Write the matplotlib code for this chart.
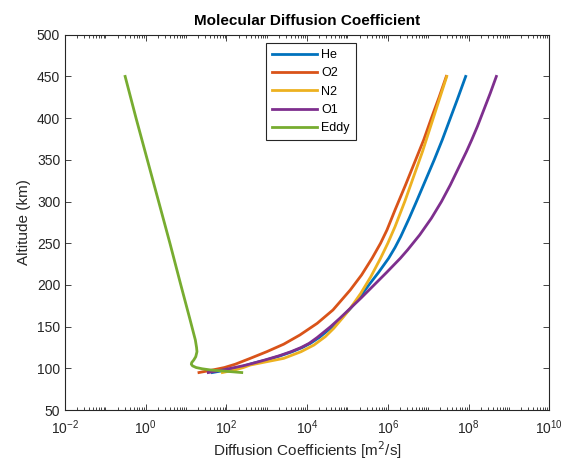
import numpy as np
import matplotlib
matplotlib.use("Agg")
import matplotlib.pyplot as plt
from matplotlib.ticker import LogLocator, NullFormatter, FixedLocator

plt.rcParams['font.family'] = ['Liberation Sans', 'DejaVu Sans']

# altitude (km) and log10 of the diffusion coefficient (m^2/s)
alt_he = [95, 98, 100, 103, 106, 110, 115, 120, 125, 130, 137, 150, 160, 170, 185, 200,
          215, 232, 245, 258, 280, 300, 325, 350, 374, 400, 422, 450]
logd_he = [1.65, 2.0, 2.2, 2.45, 2.65, 2.98, 3.33, 3.63, 3.88, 4.08, 4.3, 4.63, 4.85, 5.04,
           5.3, 5.53, 5.77, 6.02, 6.18, 6.32, 6.53, 6.71, 6.93, 7.15, 7.35, 7.55, 7.72, 7.93]

alt_o2 = [95, 98, 101, 105, 112, 120, 129, 140, 154, 170, 194, 212, 232, 250, 266, 290,
          320, 350, 374, 400, 425, 450]
logd_o2 = [1.32, 1.65, 1.95, 2.22, 2.59, 3.0, 3.42, 3.82, 4.25, 4.64, 5.07, 5.35, 5.61,
           5.82, 5.98, 6.18, 6.44, 6.69, 6.89, 7.08, 7.27, 7.45]

alt_n2 = [95, 98, 101, 104, 108, 112, 120, 128, 138, 148, 160, 172, 190, 210, 232, 250,
          270, 300, 330, 360, 390, 420, 450]
logd_n2 = [1.9, 2.2, 2.42, 2.59, 3.0, 3.42, 3.85, 4.17, 4.45, 4.66, 4.87, 5.07, 5.33,
           5.58, 5.82, 6.0, 6.18, 6.42, 6.64, 6.86, 7.06, 7.26, 7.46]

alt_o1 = [95, 98, 100, 103, 106, 110, 115, 120, 125, 130, 137, 150, 160, 172, 185, 200,
          215, 232, 242, 260, 280, 300, 320, 340, 360, 374, 390, 410, 430, 450]
logd_o1 = [1.55, 1.9, 2.1, 2.4, 2.65, 2.95, 3.3, 3.6, 3.85, 4.05, 4.25, 4.58, 4.81, 5.07,
           5.35, 5.66, 5.97, 6.31, 6.49, 6.79, 7.08, 7.33, 7.55, 7.75, 7.95, 8.08, 8.22,
           8.38, 8.54, 8.69]

alt_eddy = [450, 400, 350, 300, 250, 200, 160, 134, 125, 120, 114, 110, 107, 105, 103,
            101, 99.5, 98, 96.5, 95]
logd_eddy = [-0.51, -0.24, 0.04, 0.32, 0.6, 0.87, 1.09, 1.23, 1.26, 1.27, 1.24, 1.19, 1.14,
             1.13, 1.16, 1.25, 1.4, 1.62, 2.0, 2.38]

series = [
    ("He", alt_he, logd_he, "#0072BD"),
    ("O2", alt_o2, logd_o2, "#D95319"),
    ("N2", alt_n2, logd_n2, "#EDB120"),
    ("O1", alt_o1, logd_o1, "#7E2F8E"),
    ("Eddy", alt_eddy, logd_eddy, "#77AC30"),
]

dark = "#262626"
fig = plt.figure(figsize=(5.63, 4.66), dpi=100)
ax = fig.add_axes([0.1155, 0.120, 0.860, 0.8055])

for name, alt, logd, col in series:
    ax.plot(np.power(10.0, logd), alt, color=col, lw=2.0, label=name)

ax.set_xscale("log")
ax.set_xlim(1e-2, 1e10)
ax.set_ylim(50, 500)
ax.xaxis.set_major_locator(FixedLocator([10.0 ** k for k in range(-2, 11, 2)]))
ax.xaxis.set_minor_locator(LogLocator(base=10, subs=np.arange(1, 10), numticks=30))
ax.xaxis.set_minor_formatter(NullFormatter())
ax.set_yticks(np.arange(50, 501, 50))

ax.tick_params(which="both", direction="in", top=True, right=True,
               colors=dark, labelsize=10, width=0.6)
ax.tick_params(which="major", length=4)
ax.tick_params(which="minor", length=2)
ax.tick_params(axis="x", which="major", pad=6)
for sp in ax.spines.values():
    sp.set_color(dark)
    sp.set_linewidth(0.8)

ax.set_xlabel("Diffusion Coefficients [m$^2$/s]", fontsize=11, color=dark, labelpad=2)
ax.set_ylabel("Altitude (km)", fontsize=11, color=dark)
ax.set_title("Molecular Diffusion Coefficient", fontsize=11, fontweight="bold",
             color="black", pad=7)

leg = ax.legend(loc="upper left", bbox_to_anchor=(0.415, 0.978), fontsize=9,
                handlelength=3.6, fancybox=False, framealpha=1, borderaxespad=0,
                labelspacing=0.5, handletextpad=0.3, borderpad=0.5)
leg.get_frame().set_edgecolor(dark)
leg.get_frame().set_linewidth(0.8)

fig.savefig("out.png", dpi=100)
